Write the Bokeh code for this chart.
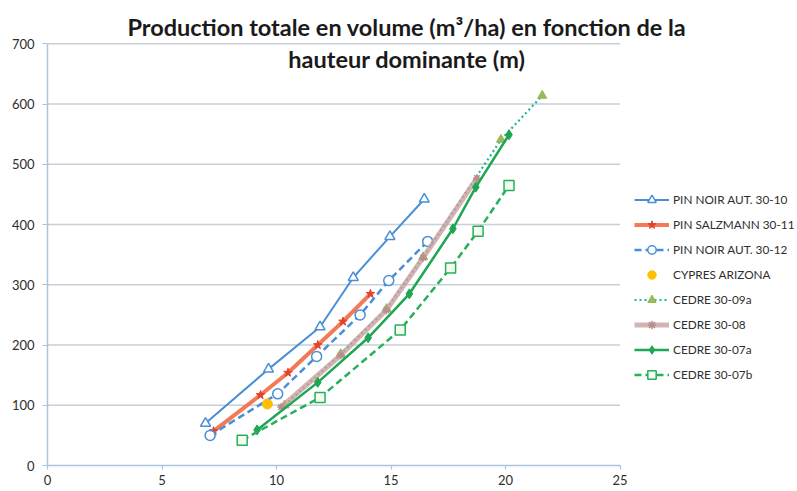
from bokeh.plotting import figure
from bokeh.models import Range1d, Label, Legend, LegendItem, FixedTicker
from bokeh.embed import file_html
from bokeh.resources import INLINE

# ---- data ----
x_pn10 = [6.9, 9.65, 11.9, 13.35, 14.95, 16.45]
y_pn10 = [70, 160, 230, 312, 380, 442]
x_ps11 = [7.25, 9.3, 10.5, 11.8, 12.9, 14.1]
y_ps11 = [57, 117, 154, 200, 239, 285]
x_pn12 = [7.1, 10.05, 11.75, 13.65, 14.9, 16.6]
y_pn12 = [50, 119, 181, 250, 307, 372]
x_cyp = [9.6]
y_cyp = [102]
x_c09a = [10.35, 12.8, 14.8, 16.4, 19.8, 21.6]
y_c09a = [100, 185, 260, 346, 541, 614]
x_c08 = [10.2, 12.8, 14.8, 16.4, 18.75]
y_c08 = [97, 183, 258, 345, 477]
x_c07a = [9.15, 11.8, 14.0, 15.8, 17.7, 18.7, 20.15]
y_c07a = [59, 138, 212, 285, 393, 462, 549]
x_c07b = [8.5, 11.9, 15.4, 17.6, 18.8, 20.15]
y_c07b = [42, 113, 225, 328, 389, 465]

names = ["PIN NOIR AUT. 30-10", "PIN SALZMANN 30-11", "PIN NOIR AUT. 30-12",
         "CYPRES ARIZONA", "CEDRE 30-09a", "CEDRE 30-08", "CEDRE 30-07a", "CEDRE 30-07b"]
x_ticks = [0, 5, 10, 15, 20, 25]
y_ticks = [0, 100, 200, 300, 400, 500, 600, 700]
title_lines = ["Production totale en volume (m³/ha) en fonction de la",
               "hauteur dominante (m)"]

FONT = "Lato"

# plot area: axes span x 0..25 and y 0..700; the frame is extended to the right
# and top so the legend and title (which overlap the chart area) are not clipped.
XMAX, YMAX = x_ticks[-1], y_ticks[-1]
p = figure(width=797, height=491, output_backend="svg", toolbar_location=None,
           x_range=Range1d(0, 32.745), y_range=Range1d(0, 771.9),
           min_border_left=47, min_border_right=0, min_border_top=0, min_border_bottom=26)
p.outline_line_color = None
p.background_fill_color = "white"
p.border_fill_color = "white"

axis_col = "#a9c4de"
for ax in (p.xaxis[0], p.yaxis[0]):
    ax.axis_line_color = axis_col
    ax.axis_line_width = 1.5
    ax.major_tick_line_color = axis_col
    ax.major_tick_line_width = 1.2
    ax.major_tick_in = 0
    ax.minor_tick_line_color = None
    ax.major_label_text_font = FONT
    ax.major_label_text_font_size = "13px"
    ax.major_label_text_color = "#2e2e2e"
p.xaxis[0].ticker = FixedTicker(ticks=x_ticks)
p.yaxis[0].ticker = FixedTicker(ticks=y_ticks)
p.xaxis[0].bounds = (0, XMAX)
p.yaxis[0].bounds = (0, YMAX)
p.xaxis[0].major_tick_out = 4
p.xaxis[0].major_label_standoff = 5
p.yaxis[0].major_tick_out = 5
p.yaxis[0].major_label_standoff = 8

p.xgrid.grid_line_color = None
p.ygrid.grid_line_color = None
gy = y_ticks[1:]
p.segment(x0=[0] * len(gy), x1=[XMAX] * len(gy), y0=gy, y1=gy,
          line_color="#c9cfd6", line_width=1.5)

items = []

blue = "#4a8fd6"
l = p.line(x_pn10, y_pn10, line_color=blue, line_width=2)
s = p.scatter(x_pn10, y_pn10, marker="triangle", size=10, line_color=blue, fill_color="white", line_width=1.5)
items.append(LegendItem(label=names[0], renderers=[l, s]))

orange = "#f26a45"
l = p.line(x_ps11, y_ps11, line_color=orange, line_width=4, line_alpha=0.9)
s = p.scatter(x_ps11, y_ps11, marker="star", size=9, line_color="#e5412a", fill_color="#e5412a")
items.append(LegendItem(label=names[1], renderers=[l, s]))

l = p.line(x_pn12, y_pn12, line_color=blue, line_width=2.5, line_dash="7 4")
s = p.scatter(x_pn12, y_pn12, marker="circle", size=10, line_color=blue, fill_color="white", line_width=1.5)
items.append(LegendItem(label=names[2], renderers=[l, s]))

s = p.scatter(x_cyp, y_cyp, marker="circle", size=10, line_color="#ffbf00", fill_color="#ffc000")
items.append(LegendItem(label=names[3], renderers=[s]))

l = p.line(x_c09a, y_c09a, line_color="#1fb39a", line_width=2.2, line_dash="2 3")
s = p.scatter(x_c09a, y_c09a, marker="triangle", size=9, line_color="#93b552", fill_color="#9bbb59")
items.append(LegendItem(label=names[4], renderers=[l, s]))

brown = "#c9a09f"
l = p.line(x_c08, y_c08, line_color=brown, line_width=5, line_alpha=0.8)
s = p.scatter(x_c08, y_c08, marker="asterisk", size=8, line_color="#b88d8b", line_width=1.5)
items.append(LegendItem(label=names[5], renderers=[l, s]))

g1 = "#1ea653"
l = p.line(x_c07a, y_c07a, line_color=g1, line_width=2.5)
s = p.scatter(x_c07a, y_c07a, marker="diamond", size=10, line_color=g1, fill_color=g1)
items.append(LegendItem(label=names[6], renderers=[l, s]))

g2 = "#27b05c"
l = p.line(x_c07b, y_c07b, line_color=g2, line_width=2.5, line_dash="7 4")
s = p.scatter(x_c07b, y_c07b, marker="square", size=10, line_color=g2, fill_color="#f4fbef", line_width=1.5)
items.append(LegendItem(label=names[7], renderers=[l, s]))

legend = Legend(items=items, location=(587, 80), orientation="vertical",
                border_line_color=None, background_fill_alpha=0,
                padding=0, margin=0, spacing=4,
                glyph_width=35, glyph_height=21, label_height=21,
                label_standoff=4,
                label_text_font=FONT, label_text_font_size="11.8px",
                label_text_color="#2e2e2e")
p.add_layout(legend, "center")

p.add_layout(Label(x=15.69, y=728, text=title_lines[0], text_align="center",
                   text_baseline="middle", text_font=FONT, text_font_style="bold",
                   text_font_size="23.5px", text_color="#1a1a1a"))
p.add_layout(Label(x=15.69, y=674, text=title_lines[1], text_align="center",
                   text_baseline="middle", text_font=FONT, text_font_style="bold",
                   text_font_size="23.5px", text_color="#1a1a1a"))

open("out.html", "w").write(file_html(p, INLINE))
